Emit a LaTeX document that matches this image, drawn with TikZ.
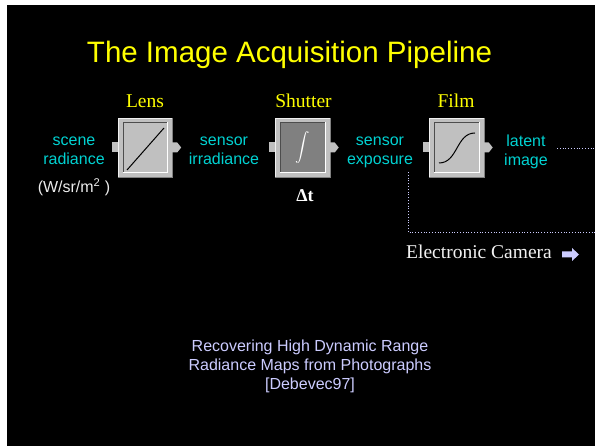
\documentclass[tikz,border=0pt]{standalone}
\usepackage{amsmath}
\usepackage{fontspec}
\setmainfont{Liberation Serif}
\setsansfont{Liberation Sans}
\usetikzlibrary{positioning}
\definecolor{slideyellow}{RGB}{255,255,0}
\definecolor{slidecyan}{RGB}{0,210,210}
\definecolor{slidelilac}{RGB}{204,204,255}
\definecolor{boxgray}{RGB}{192,192,192}
\definecolor{boxdark}{RGB}{128,128,128}

\begin{document}
\begin{tikzpicture}[x=1pt,y=-1pt,
	block/.style={fill=boxgray,minimum width=54pt,minimum height=59pt,inner sep=0pt},
	blockin/.style={fill=boxgray,minimum width=44pt,minimum height=50pt,inner sep=0pt},
	tab/.style={fill=boxgray,minimum width=6pt,minimum height=10pt,inner sep=0pt,anchor=east},
	stage/.style={text=slideyellow,font=\fontsize{19.5}{20}\selectfont,anchor=base},
	qty/.style={text=slidecyan,font=\sffamily\fontsize{16}{19}\selectfont,align=center,
		execute at begin node=\strut,execute at end node=\strut},
	dotline/.style={slidelilac,dotted,line width=0.8pt}]
		\fill[white] (0,0) rectangle (595,446);
		\fill[black] (7,5) rectangle (595,446);
		\useasboundingbox (0,0) rectangle (595,446);

		\node[text=slideyellow,font=\sffamily\fontsize{29.5}{30}\selectfont,anchor=base] (title) at (289.5,63) {The Image Acquisition Pipeline};

		% lens
		\node[block] (lens) at (145,147.5) {};
		\draw[white!88!gray] (lens.south west) |- (lens.north east);
		\draw[boxdark] (lens.south west) -| (lens.north east);
		\node[blockin] (lens-in) at (lens) {};
		\draw[boxdark!60!black] (lens-in.south west) |- (lens-in.north east);
		\draw[white] (lens-in.south west) -| (lens-in.north east);
		\node[tab] (lens-tab) at (lens.west) {};
		\fill[boxgray] (lens.east) ++(0,-5) -- ++(5,0) -- ++(4,5) -- ++(-4,5) -- ++(-5,0) -- cycle;
		\draw[line width=1pt] (127,170) -- (164,128);
		\node[stage] (lens-name) at (145,108) {Lens};

		% shutter
		\node[block] (shutter) at (302.5,147.5) {};
		\draw[white!88!gray] (shutter.south west) |- (shutter.north east);
		\draw[boxdark] (shutter.south west) -| (shutter.north east);
		\node[blockin,fill=boxdark] (shutter-in) at (shutter) {};
		\draw[boxdark!60!black] (shutter-in.south west) |- (shutter-in.north east);
		\draw[white] (shutter-in.south west) -| (shutter-in.north east);
		\node[tab] (shutter-tab) at (shutter.west) {};
		\fill[boxgray] (shutter.east) ++(0,-5) -- ++(5,0) -- ++(4,5) -- ++(-4,5) -- ++(-5,0) -- cycle;
		\node[text=white,font=\fontsize{14}{14}\selectfont] (integral) at (shutter) {$\displaystyle\int$};
		\node[stage] (shutter-name) at (303.5,108) {Shutter};
		\node[text=white,font=\bfseries\fontsize{18}{20}\selectfont,anchor=base] (dt) at (305,202) {Δt};

		% film
		\node[block] (film) at (456.5,147.5) {};
		\draw[white!88!gray] (film.south west) |- (film.north east);
		\draw[boxdark] (film.south west) -| (film.north east);
		\node[blockin] (film-in) at (film) {};
		\draw[boxdark!60!black] (film-in.south west) |- (film-in.north east);
		\draw[white] (film-in.south west) -| (film-in.north east);
		\node[tab] (film-tab) at (film.west) {};
		\fill[boxgray] (film.east) ++(0,-5) -- ++(5,0) -- ++(4,5) -- ++(-4,5) -- ++(-5,0) -- cycle;
		\draw[line width=1pt] (439,163) .. controls (458,163) and (456,133) .. (475,133);
		\node[stage] (film-name) at (456,108) {Film};

		% quantities
		\node[qty] (scene) at (74,153.5) {scene\\radiance};
		\node[qty] (irradiance) at (224,153.5) {sensor\\irradiance};
		\node[qty] (exposure) at (380,153.5) {sensor\\exposure};
		\node[qty] (latent) at (526,153.5) {latent\\image};
		\node[text=white!85!gray,font=\sffamily\fontsize{16}{19}\selectfont,anchor=base] (units) at (74,193) {(W/sr/m\textsuperscript{2} )};

		% camera branch
		\coordinate (latent-out) at (557,148);
		\coordinate (edge-top) at (595,148);
		\draw[dotline] (latent-out) -- (edge-top);
		\coordinate (tap) at (408,172);
		\coordinate (edge-low) at (595,232);
		\draw[dotline] (tap) |- (edge-low);
		\node[text=white!90!gray,font=\fontsize{19.5}{20}\selectfont,anchor=base] (camera) at (479,259) {Electronic Camera};
		\coordinate (arrow-tail) at (562,254.5);
		\fill[slidelilac] (arrow-tail) ++(0,-3) -- ++(10,0) -- ++(0,-3.5) -- ++(7,6.5) -- ++(-7,6.5) -- ++(0,-3.5) -- ++(-10,0) -- cycle;

		\node[text=slidelilac,font=\sffamily\fontsize{16}{19}\selectfont,align=center,
			execute at begin node=\strut,execute at end node=\strut] (paper) at (310,367.2)
			{Recovering High Dynamic Range\\Radiance Maps from Photographs\\{[}Debevec97{]}};
\end{tikzpicture}
\end{document}
